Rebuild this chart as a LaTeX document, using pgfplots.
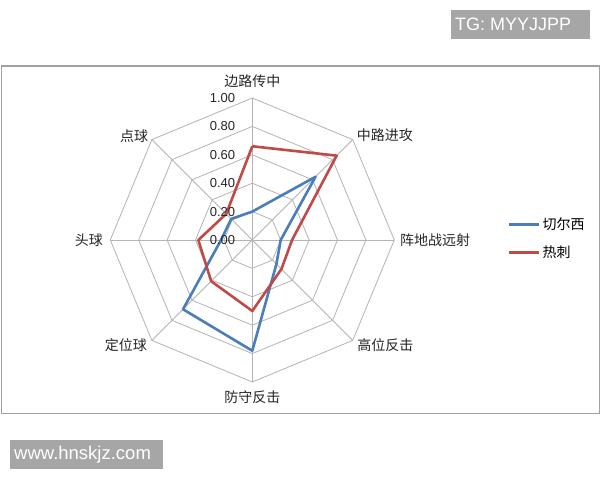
\documentclass[border=0pt]{standalone}
\usepackage{fontspec}
\setmainfont{Liberation Sans}
\newfontfamily\cjk{Noto Sans CJK SC}
\usepackage{pgfplots}
\pgfplotsset{compat=1.18}
\usepgfplotslibrary{polar}

\definecolor{gridgray}{HTML}{B4B4B4}
\definecolor{blueline}{HTML}{4A7EBB}
\definecolor{redline}{HTML}{BE4B48}
\definecolor{framegray}{HTML}{A0A0A0}
\definecolor{markgray}{HTML}{A6A6A6}

\begin{document}
\begin{tikzpicture}
\useasboundingbox (0pt,0pt) rectangle (600pt,480pt);
\fill[white] (0pt,0pt) rectangle (600pt,480pt);
\draw[framegray, line width=1.3pt] (1.3pt,66.7pt) rectangle (599.3pt,414pt);

% watermarks
\fill[markgray] (451pt,441pt) rectangle (590pt,470pt);
\node[anchor=west, inner sep=0pt, text=white, font=\fontsize{18}{20}\selectfont] at (455pt,455.5pt) {TG: MYYJJPP};
\fill[markgray] (10pt,11pt) rectangle (163pt,40pt);
\node[anchor=west, inner sep=0pt, text=white, font=\fontsize{18.5}{20}\selectfont] at (14pt,25.5pt) {www.hnskjz.com};

\begin{polaraxis}[
  at={(252.3pt,240pt)}, anchor=center,
  scale only axis, width=284pt, height=284pt,
  xmin=0, xmax=360, ymin=0, ymax=1,
  hide axis, clip=false,
  legend style={at={(1.40,0.505)}, anchor=west, draw=none, fill=none, inner sep=0pt,
    font=\cjk\fontsize{14}{16}\selectfont, row sep=11pt},
  legend image code/.code={\draw[#1] (0pt,0pt) -- (30pt,0pt);},
  legend cell align=left,
]
% octagon rings
\addplot[gridgray, line width=0.8pt, forget plot] coordinates {(90,0.2) (45,0.2) (0,0.2) (315,0.2) (270,0.2) (225,0.2) (180,0.2) (135,0.2) (90,0.2)};
\addplot[gridgray, line width=0.8pt, forget plot] coordinates {(90,0.4) (45,0.4) (0,0.4) (315,0.4) (270,0.4) (225,0.4) (180,0.4) (135,0.4) (90,0.4)};
\addplot[gridgray, line width=0.8pt, forget plot] coordinates {(90,0.6) (45,0.6) (0,0.6) (315,0.6) (270,0.6) (225,0.6) (180,0.6) (135,0.6) (90,0.6)};
\addplot[gridgray, line width=0.8pt, forget plot] coordinates {(90,0.8) (45,0.8) (0,0.8) (315,0.8) (270,0.8) (225,0.8) (180,0.8) (135,0.8) (90,0.8)};
\addplot[gridgray, line width=0.8pt, forget plot] coordinates {(90,1) (45,1) (0,1) (315,1) (270,1) (225,1) (180,1) (135,1) (90,1)};
% spokes
\addplot[gridgray, line width=0.8pt, forget plot] coordinates {(90,0) (90,1)};
\addplot[gridgray, line width=0.8pt, forget plot] coordinates {(45,0) (45,1)};
\addplot[gridgray, line width=0.8pt, forget plot] coordinates {(0,0) (0,1)};
\addplot[gridgray, line width=0.8pt, forget plot] coordinates {(315,0) (315,1)};
\addplot[gridgray, line width=0.8pt, forget plot] coordinates {(270,0) (270,1)};
\addplot[gridgray, line width=0.8pt, forget plot] coordinates {(225,0) (225,1)};
\addplot[gridgray, line width=0.8pt, forget plot] coordinates {(180,0) (180,1)};
\addplot[gridgray, line width=0.8pt, forget plot] coordinates {(135,0) (135,1)};

% series
\addplot[blueline, line width=2.6pt, line join=round] coordinates {
(90,0.20) (45,0.63) (0,0.20) (315,0.24) (270,0.78) (225,0.69) (180,0.22) (135,0.21) (90,0.20)
};
\addlegendentry{切尔西}
\addplot[redline, line width=2.6pt, line join=round] coordinates {
(90,0.66) (45,0.84) (0,0.28) (315,0.29) (270,0.50) (225,0.41) (180,0.38) (135,0.26) (90,0.66)
};
\addlegendentry{热刺}

% radial tick labels
\begin{scope}[every node/.style={anchor=east, xshift=-17pt, inner sep=0pt, text=black!85, font=\fontsize{13}{15}\selectfont}]
\node at (axis cs:90,0) {0.00};
\node at (axis cs:90,0.2) {0.20};
\node at (axis cs:90,0.4) {0.40};
\node at (axis cs:90,0.6) {0.60};
\node at (axis cs:90,0.8) {0.80};
\node at (axis cs:90,1) {1.00};
\end{scope}

% category labels
\begin{scope}[every node/.style={inner sep=0pt, text=black!85, font=\cjk\fontsize{14}{16}\selectfont}]
\node[anchor=south] at (axis cs:90,1.07) {边路传中};
\node[anchor=west] at (axis cs:45,1.04) {中路进攻};
\node[anchor=west] at (axis cs:0,1.04) {阵地战远射};
\node[anchor=west] at (axis cs:315,1.044) {高位反击};
\node[anchor=north] at (axis cs:270,1.063) {防守反击};
\node[anchor=east] at (axis cs:225,1.049) {定位球};
\node[anchor=east] at (axis cs:180,1.05) {头球};
\node[anchor=east] at (axis cs:135,1.036) {点球};
\end{scope}
\end{polaraxis}
\end{tikzpicture}
\end{document}
